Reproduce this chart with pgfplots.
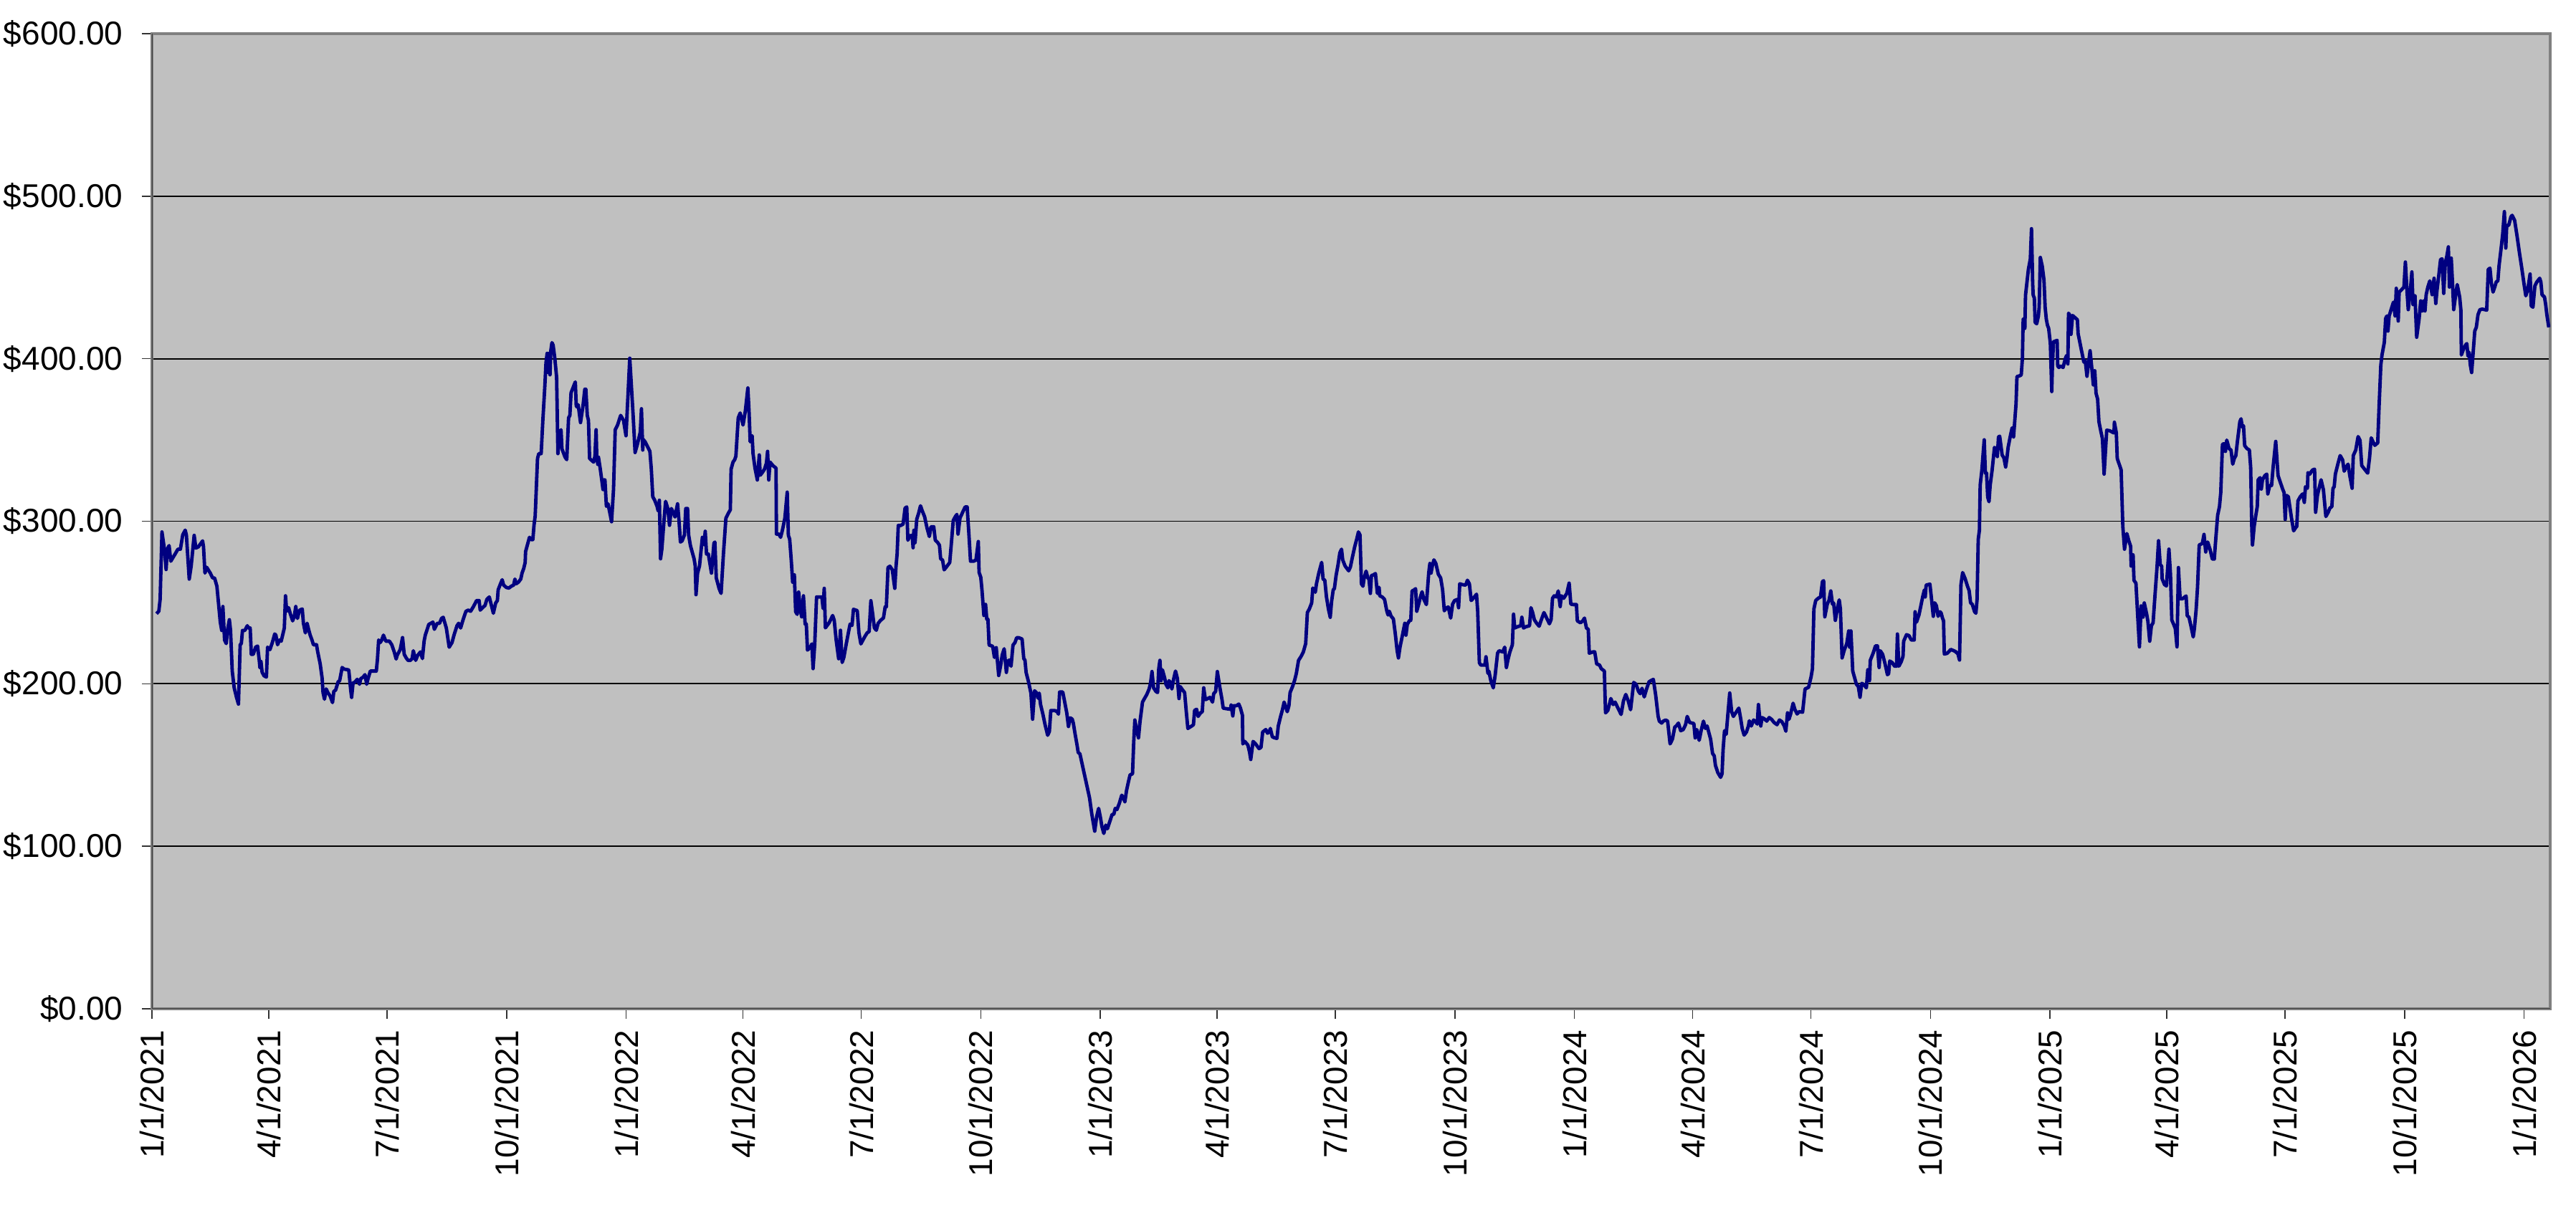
\documentclass[border=0pt]{standalone}
\usepackage{pgfplots}
\pgfplotsset{compat=1.18}
\usepackage{fontspec}
\setmainfont{Liberation Sans}
\definecolor{plotbg}{HTML}{C0C0C0}
\definecolor{framegray}{HTML}{808080}
\definecolor{navyline}{HTML}{000080}
\begin{document}
\fontsize{11.5pt}{13pt}\selectfont
\begin{tikzpicture}
\begin{axis}[
  at={(0,0)}, anchor=south west,
  scale only axis, width=836.5pt, height=340.25pt,
  xmin=0, xmax=1846.1, ymin=0, ymax=600,
  axis background/.style={fill=plotbg},
  axis line style={draw=framegray, line width=1.1pt},
  xtick={0,90,181,273,365,455,546,638,730,820,911,1003,1095,1186,1277,1369,1461,1551,1642,1734,1826},
  xticklabels={1/1/2021,4/1/2021,7/1/2021,10/1/2021,1/1/2022,4/1/2022,7/1/2022,10/1/2022,1/1/2023,4/1/2023,7/1/2023,10/1/2023,1/1/2024,4/1/2024,7/1/2024,10/1/2024,1/1/2025,4/1/2025,7/1/2025,10/1/2025,1/1/2026},
  ytick={0,100,200,300,400,500,600},
  yticklabels={\$0.00,\$100.00,\$200.00,\$300.00,\$400.00,\$500.00,\$600.00},
  tick pos=left,
  tick align=outside, major tick length=3.5pt,
  tick style={black!80, line width=0.4pt},
  ymajorgrids, major grid style={black, line width=0.45pt},
  every tick label/.append style={font=\fontsize{11.5pt}{13pt}\selectfont},
  x tick label style={rotate=90, anchor=east, inner sep=0pt},
  y tick label style={anchor=east, inner sep=0pt},
  xticklabel shift=3.75pt,
  yticklabel shift=6.5pt,
]
\addplot[draw=navyline, line width=1.2pt, line join=round, mark=none] coordinates {
(3.5,243.1)(5.3,244.6)(6.3,251.9)(7.7,293.4)(9.6,282.8)(10.9,270.3)(11.8,282.8)(13.2,285.0)(14.5,275.4)(17.3,279.1)(20.0,282.8)(21.9,282.8)(23.7,291.6)(25.6,294.5)(26.5,291.6)(28.7,264.4)(30.2,272.5)(32.5,291.3)(33.8,283.5)(35.7,284.2)(39.0,287.9)(39.7,284.2)(40.8,268.1)(42.1,271.7)(44.9,268.1)(46.7,265.1)(48.2,265.1)(50.0,260.0)(51.3,249.0)(52.6,237.9)(53.7,232.8)(54.6,247.5)(55.9,226.9)(57.2,224.7)(58.1,232.8)(59.6,239.4)(60.5,232.8)(61.8,207.8)(63.3,197.5)(65.1,191.6)(66.6,187.5)(67.9,224.0)(68.8,224.7)(69.7,232.8)(71.5,232.8)(73.4,235.7)(74.3,234.3)(75.6,234.3)(76.5,218.1)(78.0,218.1)(79.8,222.5)(81.3,223.2)(82.6,214.4)(83.1,210.0)(83.9,213.7)(84.8,207.1)(86.3,204.9)(88.1,204.1)(89.0,222.5)(90.8,221.0)(92.7,225.4)(94.5,230.6)(95.4,229.9)(96.7,224.0)(98.2,226.9)(99.5,226.2)(101.9,234.3)(102.8,254.1)(103.7,244.6)(105.2,246.8)(106.5,243.1)(108.3,238.7)(109.6,241.6)(110.7,247.5)(112.0,240.2)(112.9,243.1)(113.8,245.3)(115.7,246.0)(116.6,237.2)(118.1,231.3)(119.4,237.2)(120.3,234.3)(121.8,229.9)(123.2,226.9)(124.3,224.0)(126.7,224.0)(127.6,219.6)(129.5,212.2)(131.0,203.4)(131.7,194.6)(132.8,190.5)(134.1,196.8)(135.4,194.6)(137.2,192.4)(139.0,188.4)(140.0,195.3)(141.4,196.1)(143.3,201.2)(144.5,201.9)(146.4,210.0)(147.9,209.0)(151.5,208.5)(153.0,196.1)(153.7,191.6)(154.8,200.5)(156.1,200.9)(158.0,202.7)(159.8,199.7)(160.7,203.1)(162.6,204.1)(164.0,205.6)(165.3,199.7)(166.2,202.7)(168.1,207.8)(172.7,207.8)(173.6,215.2)(174.5,226.9)(175.8,225.4)(176.9,226.9)(178.2,229.9)(180.0,226.2)(182.8,226.2)(184.6,224.0)(186.5,219.6)(188.0,215.2)(188.7,217.4)(191.1,221.0)(192.9,228.4)(194.2,218.1)(195.7,215.9)(197.1,214.4)(199.0,214.4)(200.3,215.5)(201.2,220.3)(203.0,214.4)(204.5,217.4)(206.7,219.6)(208.2,215.5)(209.5,226.2)(210.4,229.9)(213.1,236.5)(216.3,237.9)(217.4,233.5)(219.6,237.2)(221.4,237.2)(222.9,240.2)(224.2,240.9)(226.6,234.3)(228.8,222.5)(231.0,225.4)(232.5,229.9)(234.8,235.7)
(236.1,237.2)(237.6,234.3)(239.5,239.4)(241.7,244.6)(243.5,245.3)(245.3,244.6)(247.5,247.5)(249.9,251.2)(251.8,251.2)(252.7,245.3)(254.5,246.8)(256.4,248.2)(257.8,251.9)(259.7,253.4)(261.3,248.2)(262.8,243.4)(264.6,249.7)(265.9,251.2)(266.5,257.8)(268.3,261.5)(269.6,264.0)(270.7,260.7)(272.9,259.2)(274.8,258.9)(276.6,260.0)(278.4,260.7)(279.4,264.4)(280.3,261.5)(282.1,262.5)(283.9,264.4)(284.9,268.1)(286.2,271.0)(287.3,274.7)(287.6,281.3)(289.1,285.7)(290.6,290.1)(291.9,288.7)(293.2,288.7)(294.1,297.5)(295.0,303.3)(296.8,338.6)(297.8,341.6)(299.6,341.6)(300.9,362.1)(302.4,382.7)(303.3,397.4)(304.2,403.3)(305.1,391.5)(305.7,403.3)(306.4,390.1)(307.0,404.8)(307.9,409.9)(308.8,408.4)(310.1,400.3)(311.5,388.6)(312.5,341.6)(313.4,353.3)(314.9,356.3)(315.6,344.5)(318.0,339.4)(319.3,337.9)(320.7,363.6)(321.7,365.1)(322.6,379.0)(324.4,382.7)(325.9,385.7)(326.6,371.0)(327.4,370.2)(328.1,371.7)(329.9,360.7)(331.8,371.0)(333.2,381.2)(334.0,381.2)(335.1,365.1)(336.0,362.1)(336.9,338.6)(338.8,337.2)(340.0,336.4)(341.0,340.1)(341.9,356.3)(342.4,340.1)(343.2,335.0)(343.7,339.4)(345.0,332.7)(346.5,323.9)(347.2,319.5)(347.8,325.4)(348.7,325.4)(349.8,309.2)(351.1,310.7)(353.8,299.7)(355.3,319.5)(356.6,356.3)(358.4,359.2)(360.8,365.1)(363.0,362.1)(364.9,352.6)(366.3,375.4)(367.8,400.3)(370.4,365.1)(371.9,342.3)(373.7,347.4)(375.0,351.8)(375.9,354.8)(376.8,369.2)(377.8,343.8)(378.1,350.4)(379.6,348.9)(381.4,346.0)(383.3,343.0)(384.4,332.0)(385.5,315.1)(387.0,312.9)(388.8,309.2)(389.7,306.3)(390.6,312.9)(391.5,276.9)(392.5,282.8)(394.3,301.9)(395.4,312.2)(397.1,307.8)(398.4,297.5)(399.8,307.8)(401.7,304.8)(402.6,302.6)(403.5,306.3)(404.6,310.7)(405.7,300.4)(406.8,287.2)(408.1,287.9)(409.9,291.6)(410.9,307.8)(412.3,307.8)(413.1,291.6)(414.5,285.0)(417.3,276.9)(418.2,272.5)(418.8,254.8)(420.0,268.1)(421.5,272.5)(423.7,290.1)(425.0,285.7)(425.9,293.8)(426.9,279.8)(428.3,279.8)(429.2,275.4)(430.7,268.1)(432.6,286.5)(433.3,287.2)(434.4,265.1)(436.6,258.5)(438.1,255.6)(439.9,279.8)(441.8,301.9)(443.6,304.8)(445.2,307.0)(445.8,332.0)(447.3,336.4)(448.6,337.9)(449.5,340.1)(451.3,363.6)(452.8,366.6)(455.0,359.2)(456.8,368.0)(458.7,382.0)(459.6,368.0)(460.5,348.9)(462.0,352.6)(462.7,341.6)(464.2,332.7)(466.0,325.4)(467.5,340.8)(468.2,328.3)(469.7,329.8)(471.5,332.0)(473.0,335.7)(473.9,343.0)(474.8,325.4)(475.8,336.4)(478.0,334.2)(480.4,332.7)
(480.7,292.1)(482.6,292.1)(483.9,290.1)(485.3,294.4)(487.2,301.9)(489.0,317.9)(489.9,291.3)(490.9,289.0)(492.1,276.1)(493.2,262.5)(494.5,267.0)(495.5,244.3)(496.7,242.7)(497.8,256.4)(499.1,245.8)(500.1,241.2)(501.5,254.1)(502.8,236.7)(503.7,236.7)(504.6,220.7)(506.5,222.2)(508.0,224.5)(508.9,209.3)(510.2,224.5)(511.6,253.4)(515.7,253.4)(516.6,246.5)(517.5,258.7)(518.4,234.4)(521.2,237.4)(524.0,242.0)(525.2,239.0)(526.7,226.8)(528.6,215.4)(530.0,232.9)(531.3,213.1)(532.6,216.2)(534.1,223.0)(535.9,230.6)(537.4,236.7)(538.9,235.9)(540.0,245.8)(542.9,245.0)(544.2,231.4)(545.7,224.5)(548.8,229.1)(550.6,231.4)(552.1,232.1)(553.4,251.1)(554.7,243.5)(556.1,234.4)(557.6,232.9)(558.9,237.0)(560.7,238.9)(563.1,240.5)(564.4,247.3)(565.3,247.3)(566.6,271.6)(568.1,272.3)(569.9,270.1)(571.8,258.7)(572.7,271.6)(573.6,279.9)(574.5,297.4)(576.4,297.4)(578.2,298.2)(579.7,308.0)(581.0,308.8)(581.9,288.3)(583.4,291.0)(585.2,291.3)(585.9,283.7)(586.5,294.4)(587.4,286.8)(588.7,301.2)(590.2,305.0)(591.6,309.5)(592.9,306.5)(594.8,302.7)(596.6,295.9)(598.4,290.6)(599.7,296.6)(601.8,296.6)(603.0,288.3)(604.9,286.8)(606.2,285.2)(607.1,276.9)(608.6,276.1)(609.8,270.1)(611.3,271.6)(614.1,274.6)(615.4,286.8)(616.8,300.4)(618.3,302.7)(619.6,304.2)(620.5,292.1)(622.0,302.0)(623.3,304.2)(624.6,306.5)(626.0,308.8)(627.5,308.8)(628.8,292.8)(630.1,275.4)(632.5,275.4)(634.3,276.1)(636.1,287.5)(636.7,268.5)(638.0,265.5)(638.9,257.9)(640.4,242.0)(641.7,248.8)(642.6,239.7)(643.5,239.7)(644.4,223.8)(646.3,223.3)(647.2,223.0)(648.5,216.2)(649.9,222.2)(651.8,205.1)(653.2,210.8)(654.5,217.7)(656.0,221.5)(657.7,207.0)(658.8,213.9)(660.1,214.6)(661.3,210.8)(662.8,223.8)(664.3,225.3)(665.6,228.3)(667.4,228.3)(669.8,227.5)(671.1,215.4)(672.0,214.6)(672.9,207.0)(674.8,201.0)(676.6,194.2)(677.9,178.2)(679.4,195.7)(681.2,194.2)(682.1,191.1)(683.0,194.2)(684.0,187.3)(685.8,181.3)(687.6,174.4)(689.5,168.3)(690.8,170.6)(691.9,183.5)(695.0,183.5)(696.8,182.8)(697.8,181.3)(698.7,194.9)(701.1,194.9)(702.4,189.6)(704.2,182.0)(705.5,173.7)(706.9,179.0)(708.4,178.2)(709.2,175.9)(710.6,169.1)(712.1,162.3)(713.0,157.7)(714.3,156.9)
(721.7,129.9)(723.5,119.6)(725.7,109.3)(727.2,118.2)(728.7,123.3)(730.0,118.2)(731.2,112.3)(732.7,107.9)(734.2,113.0)(735.5,110.8)(737.3,115.2)(739.1,119.6)(740.4,119.6)(741.5,123.3)(742.8,122.6)(744.6,126.3)(746.5,131.4)(747.8,129.9)(748.9,127.3)(750.2,134.3)(751.6,139.5)(752.9,143.9)(754.8,144.6)(755.7,163.7)(756.6,177.7)(758.1,171.1)(759.4,166.7)(760.6,176.9)(762.5,188.7)(764.0,190.9)(765.8,193.4)(767.6,196.8)(768.7,200.5)(769.8,207.5)(771.0,197.5)(772.8,195.3)(774.1,194.6)(775.0,209.3)(775.9,214.4)(776.8,201.9)(777.8,208.6)(779.6,203.4)(780.5,199.7)(782.0,197.5)(782.9,201.9)(784.2,200.5)(785.1,196.8)(786.4,202.7)(787.9,207.8)(789.3,203.4)(790.6,190.9)(791.5,198.3)(793.4,196.1)(794.9,194.6)(796.1,183.6)(797.4,172.5)(800.4,174.0)(801.7,174.8)(802.6,183.6)(804.1,184.3)(805.3,179.9)(807.2,182.1)(808.5,182.8)(809.6,197.5)(810.9,190.2)(812.7,190.9)(814.5,191.6)(816.4,188.7)(817.3,193.9)(818.8,195.3)(820.1,207.5)(821.9,198.3)(823.7,190.2)(824.6,185.0)(827.4,184.6)(830.2,184.3)(830.7,186.9)(832.0,180.2)(832.9,186.5)(834.8,186.5)(836.6,187.5)(837.9,185.0)(839.4,180.6)(839.7,163.0)(841.2,164.5)(843.6,162.3)(844.9,157.9)(845.8,153.4)(847.6,164.5)(849.5,163.0)(852.2,160.1)(853.7,160.8)(855.0,170.3)(857.4,171.8)(858.7,169.6)(860.0,170.3)(860.9,172.5)(862.4,167.4)(864.2,166.7)(866.0,166.4)(867.0,174.0)(868.8,179.9)(870.3,184.3)(871.5,188.7)(872.8,185.8)(873.9,182.8)(875.2,186.5)(876.1,194.6)(878.0,198.3)(879.5,201.9)(880.9,206.3)(882.6,214.4)(884.4,216.6)(886.3,219.6)(888.1,224.7)(889.4,243.8)(890.9,246.0)(892.7,249.7)(893.6,258.9)(895.5,256.3)(896.4,261.5)(898.2,268.1)(900.4,274.7)(901.5,264.4)(902.8,263.7)(904.1,253.4)(905.6,246.0)(907.0,240.9)(908.0,250.4)(909.3,257.8)(910.2,258.5)(911.5,266.6)(913.0,273.2)(914.4,280.6)(915.7,282.8)(916.6,276.2)(918.4,272.5)(921.2,269.5)(922.5,271.8)(924.0,277.6)(925.8,284.2)(927.3,288.7)(928.7,293.4)(929.9,291.6)(931.0,261.5)(932.2,260.0)(933.1,265.1)(934.6,269.3)(935.9,265.1)(936.8,264.4)(937.9,255.6)(938.7,266.6)(940.1,266.9)(941.8,267.8)(943.3,255.6)(944.6,259.3)(945.1,254.1)(947.0,253.4)(948.8,251.9)(950.6,244.6)(951.5,242.3)(952.5,244.6)(953.8,241.6)(955.6,239.9)(957.1,230.6)(958.5,220.3)(959.5,215.9)(960.7,222.5)(962.6,229.9)(964.4,237.2)(965.3,229.9)(966.3,236.5)(968.1,239.0)(969.0,239.0)(970.0,257.1)
(971.8,257.8)(972.7,258.5)(973.6,244.6)(975.1,249.0)(976.4,253.4)(977.7,256.6)(979.1,251.9)(981.0,248.7)(982.8,268.1)(983.7,274.0)(984.6,268.1)(985.6,272.5)(986.8,276.2)(988.3,274.0)(990.2,267.4)(992.0,265.1)(993.5,257.8)(994.8,244.9)(996.6,246.8)(997.9,247.2)(999.7,240.4)(1001.2,249.0)(1002.7,251.2)(1004.9,251.9)(1005.8,246.8)(1006.7,261.5)(1008.6,261.0)(1011.3,260.7)(1012.6,263.7)(1014.1,261.5)(1015.5,251.2)(1017.7,253.1)(1019.6,255.1)(1020.5,244.6)(1021.8,212.9)(1022.9,211.5)(1026.0,211.5)(1026.9,216.6)(1028.4,206.3)(1029.1,207.8)(1030.6,201.9)(1032.5,197.5)(1033.9,204.9)(1035.8,218.8)(1037.0,220.3)(1039.8,219.6)(1041.3,222.5)(1042.6,210.0)(1043.9,215.2)(1045.3,219.6)(1047.2,224.0)(1048.1,242.8)(1049.0,234.3)(1050.8,235.0)(1053.6,235.7)(1054.5,240.9)(1055.8,234.3)(1057.3,235.0)(1060.4,235.7)(1061.5,246.8)(1062.8,243.8)(1064.1,239.4)(1065.9,237.2)(1067.8,235.4)(1069.2,238.7)(1071.5,243.8)(1073.3,240.9)(1075.7,236.9)(1077.0,239.4)(1078.1,252.6)(1079.4,254.1)(1081.2,253.4)(1082.5,257.1)(1084.0,247.5)(1084.9,254.1)(1086.7,252.6)(1089.1,255.6)(1090.9,261.9)(1092.2,249.0)(1094.1,248.7)(1096.5,248.7)(1097.2,238.7)(1099.6,237.5)(1101.4,238.7)(1102.7,240.4)(1104.2,234.3)(1105.6,233.5)(1106.4,218.8)(1109.3,219.6)(1110.6,219.6)(1112.1,212.2)(1114.3,211.5)(1115.6,209.3)(1118.0,207.8)(1118.9,182.1)(1120.7,183.6)(1123.0,190.9)(1124.8,187.2)(1126.3,188.7)(1128.5,185.0)(1130.9,181.1)(1132.7,189.4)(1134.5,193.4)(1136.4,189.4)(1138.2,184.0)(1140.6,200.8)(1142.4,199.7)(1144.3,195.3)(1145.6,193.9)(1147.0,197.2)(1148.7,191.9)(1150.5,196.8)(1152.4,201.2)(1153.8,201.9)(1155.7,202.7)(1157.5,193.1)(1159.4,179.9)(1160.3,177.0)(1162.1,175.8)(1163.4,177.0)(1165.2,177.7)(1166.7,177.0)(1168.6,163.0)(1170.4,165.9)(1172.2,173.3)(1173.7,174.3)(1175.0,175.8)(1176.8,171.1)(1178.7,171.8)(1180.5,174.8)(1181.8,179.9)(1183.6,176.2)(1186.9,175.5)(1187.9,166.7)(1189.2,171.8)(1191.0,165.2)(1192.5,171.1)(1194.3,177.0)(1195.8,172.5)(1197.1,174.0)(1199.8,165.9)(1201.3,157.1)(1202.6,155.6)(1203.5,149.8)(1205.3,145.4)(1207.5,142.4)
(1208.6,144.6)(1209.4,159.3)(1210.5,171.1)(1211.8,168.9)(1213.1,181.4)(1214.5,194.3)(1216.0,182.8)(1217.3,179.9)(1219.1,182.1)(1221.5,185.0)(1222.8,179.2)(1224.1,172.5)(1225.6,168.4)(1227.4,170.3)(1228.9,174.0)(1229.6,177.2)(1231.1,174.0)(1232.9,177.7)(1234.8,176.2)(1235.7,175.2)(1236.6,187.2)(1237.5,179.9)(1238.4,174.0)(1239.4,179.2)(1241.2,178.4)(1243.0,177.0)(1244.9,179.2)(1246.7,178.1)(1248.6,176.2)(1250.9,174.8)(1252.8,177.7)(1254.6,176.7)(1256.5,174.0)(1257.7,170.8)(1259.0,182.1)(1260.1,178.1)(1261.4,181.4)(1263.3,188.0)(1264.6,184.3)(1266.4,181.4)(1267.9,182.8)(1270.6,182.5)(1272.5,196.8)(1275.2,197.8)(1277.1,204.1)(1278.2,209.3)(1278.9,232.8)(1279.3,246.0)(1280.7,251.2)(1282.6,252.6)(1284.4,253.4)(1285.9,262.9)(1286.8,263.4)(1287.7,241.2)(1289.6,249.0)(1290.9,251.2)(1292.3,257.1)(1293.6,249.0)(1294.5,249.7)(1295.8,239.0)(1297.3,246.0)(1298.8,251.6)(1299.7,246.0)(1301.0,215.9)(1302.8,221.0)(1304.6,224.7)(1306.1,232.5)(1306.8,222.5)(1307.8,232.5)(1309.2,207.8)(1310.5,204.1)(1312.0,199.7)(1313.5,198.3)(1314.8,191.7)(1316.1,200.2)(1317.5,199.7)(1319.7,197.5)(1320.8,208.6)(1322.1,201.9)(1322.7,214.4)(1324.9,218.8)(1326.7,223.3)(1328.2,223.3)(1329.5,210.0)(1330.4,220.3)(1332.2,218.1)(1334.1,212.2)(1335.9,205.6)(1336.8,206.1)(1337.7,214.0)(1339.6,213.0)(1341.4,210.8)(1342.9,210.8)(1343.6,230.6)(1344.7,210.8)(1346.6,213.7)(1347.9,216.9)(1348.4,226.2)(1350.6,230.2)(1352.5,229.6)(1354.3,226.9)(1356.5,226.9)(1357.2,244.3)(1358.3,237.9)(1358.9,239.4)(1360.2,242.4)(1361.7,248.2)(1363.1,253.7)(1364.4,257.8)(1365.0,253.4)(1365.7,260.7)
(1367.2,261.0)(1368.6,261.3)(1369.9,251.7)(1371.2,241.5)(1372.3,249.8)(1373.6,248.0)(1374.9,241.5)(1376.4,244.3)(1377.3,243.4)(1378.2,240.6)(1379.1,238.7)(1379.7,218.3)(1381.9,218.7)(1383.7,220.2)(1384.6,221.1)(1386.5,220.5)(1388.3,219.8)(1390.2,218.3)(1391.4,214.6)(1392.5,261.0)(1393.8,268.4)(1395.7,264.7)(1397.5,260.1)(1398.8,257.3)(1399.9,249.8)(1401.2,248.9)(1403.0,244.3)(1404.0,243.4)(1404.9,251.7)(1405.8,288.8)(1406.7,294.4)(1407.3,322.2)(1408.6,331.5)(1410.4,350.1)(1411.3,329.6)(1412.2,329.6)(1413.1,314.8)(1414.1,312.0)(1415.0,322.2)(1416.5,331.5)(1418.3,345.4)(1419.6,344.5)(1420.5,339.8)(1421.4,351.9)(1422.3,352.3)(1423.3,346.3)(1424.2,340.8)(1425.6,338.9)(1426.9,333.4)(1427.9,338.9)(1428.8,345.4)(1430.6,352.8)(1431.9,357.5)(1433.0,351.9)(1433.7,359.3)(1434.9,372.3)(1435.6,389.0)(1437.4,389.4)(1438.9,390.0)(1439.8,400.2)(1440.4,424.3)(1441.1,422.4)(1441.7,418.7)(1442.2,439.1)(1443.5,448.4)(1444.4,454.9)(1445.9,461.4)(1446.8,480.0)(1447.7,446.6)(1448.1,439.1)(1449.0,437.3)(1449.6,422.4)(1450.8,421.5)(1452.1,426.2)(1452.7,431.7)(1453.6,462.3)(1455.1,456.8)(1456.4,448.4)(1457.3,431.7)(1458.2,424.3)(1459.1,420.6)(1460.0,418.7)(1461.3,409.5)(1462.4,379.8)(1462.8,392.7)(1463.7,410.4)(1466.5,411.3)(1467.0,395.5)(1467.9,394.6)(1469.2,395.5)(1471.1,394.6)(1472.9,400.2)(1473.8,402.0)(1474.8,396.8)(1475.3,428.0)(1476.1,427.1)(1477.2,415.0)
(1478.4,426.6)(1482.1,424.0)(1482.7,415.3)(1484.9,406.6)(1487.1,397.9)(1488.2,398.8)(1489.5,389.2)(1491.9,404.9)(1493.2,394.4)(1494.4,383.9)(1495.5,392.6)(1496.5,378.7)(1497.7,375.2)(1498.7,361.3)(1500.0,356.0)(1501.4,350.8)(1502.7,329.0)(1504.7,356.0)(1506.9,355.7)(1510.3,354.3)(1510.6,360.9)(1512.1,354.3)(1512.8,338.6)(1514.3,335.1)(1515.8,331.6)(1517.1,296.8)(1518.4,282.8)(1520.2,292.4)(1521.7,288.0)(1523.1,284.6)(1523.5,272.4)(1525.0,279.3)(1525.7,263.6)(1527.2,261.9)(1528.6,241.0)(1529.9,222.7)(1531.2,247.9)(1532.7,241.0)(1533.6,249.7)(1535.5,242.7)(1536.4,238.4)(1537.8,226.2)(1539.1,235.7)(1540.4,237.5)(1541.9,254.9)(1543.4,271.5)(1544.6,288.0)(1545.9,273.2)(1547.0,272.4)(1547.4,264.5)(1549.2,261.0)(1550.7,260.2)(1551.5,269.7)(1552.6,282.8)(1553.8,267.1)(1554.8,239.2)(1556.2,236.6)(1557.5,234.0)(1558.8,222.7)(1559.9,271.5)(1561.2,252.3)(1563.0,252.3)(1565.8,254.0)(1566.7,241.8)(1568.0,241.0)(1569.5,235.7)(1571.3,228.8)(1572.2,234.0)(1573.5,245.3)(1574.6,259.3)(1575.9,285.4)(1578.3,286.3)(1579.6,291.9)(1580.9,281.1)(1582.4,287.2)(1584.2,282.8)(1586.0,276.7)(1587.5,276.7)(1588.8,290.7)(1590.1,303.7)(1591.5,309.0)(1592.5,317.7)(1593.8,347.3)(1594.9,347.7)(1596.1,343.0)(1597.1,349.9)(1598.9,344.7)(1600.4,343.8)(1601.7,335.1)(1602.9,338.6)(1604.1,340.4)(1605.3,349.1)(1607.2,361.3)(1608.1,363.0)(1609.0,358.1)(1610.0,358.7)(1610.9,346.5)(1612.7,344.7)(1614.5,343.8)(1615.5,333.4)(1616.4,295.0)(1616.9,285.4)(1618.2,296.8)(1619.5,303.7)(1620.6,309.0)(1621.3,325.5)(1622.8,326.8)(1623.7,319.8)(1624.6,325.5)(1626.5,328.1)(1627.9,329.0)(1628.7,316.8)(1630.2,322.0)(1631.6,322.0)(1632.9,334.2)(1634.8,349.1)(1636.6,328.1)(1638.4,323.8)(1640.3,319.4)(1641.2,317.7)(1642.1,301.1)(1643.0,315.9)(1644.5,315.1)(1645.8,308.1)(1647.1,301.1)(1648.6,294.1)(1650.0,295.9)(1651.0,296.8)(1651.9,312.5)(1653.7,315.1)(1655.5,316.8)(1656.8,311.6)(1657.7,321.2)(1659.2,320.3)(1659.6,329.9)(1661.1,329.0)(1662.4,330.8)(1663.3,331.6)(1664.7,332.0)(1665.5,305.5)(1666.9,315.9)(1669.7,325.5)(1671.5,319.4)(1672.5,310.7)(1673.4,302.9)(1675.2,305.5)(1676.5,308.1)(1678.0,309.0)(1678.9,320.3)(1679.8,321.2)(1680.7,329.0)(1682.6,335.1)(1684.4,340.4)(1686.3,337.7)(1687.5,330.8)(1689.0,333.4)(1690.5,335.1)(1691.8,328.1)(1693.6,320.3)(1694.5,340.4)(1696.4,343.8)
(1698.2,352.1)(1699.7,349.7)(1701.0,334.3)(1702.8,332.4)(1705.6,329.6)(1707.0,338.9)(1708.3,351.3)(1709.6,349.0)(1711.1,346.7)(1713.3,348.2)(1714.4,371.4)(1715.7,396.1)(1716.6,402.3)(1718.4,410.1)(1719.4,424.7)(1720.3,426.3)(1721.2,417.0)(1722.1,426.3)(1723.6,430.2)(1725.4,434.8)(1726.7,426.3)(1727.6,443.3)(1729.1,423.2)(1729.8,441.0)(1731.7,442.5)(1733.5,444.1)(1734.6,459.5)(1735.9,441.0)(1736.8,430.2)(1738.3,441.0)(1739.6,453.4)(1740.5,433.3)(1742.0,438.7)(1743.3,413.2)(1745.1,424.0)(1746.4,435.6)(1747.5,429.4)(1748.8,435.6)(1749.7,429.4)(1750.6,439.4)(1751.9,444.1)(1753.4,447.9)(1755.2,439.4)(1756.7,449.5)(1758.0,434.0)(1758.9,441.8)(1760.4,451.8)(1761.7,461.1)(1762.9,461.4)(1764.1,440.2)(1765.3,458.8)(1766.6,463.4)(1767.7,468.8)(1768.5,444.1)(1769.9,461.9)(1770.9,446.4)(1771.8,430.2)(1773.6,441.0)(1774.5,445.6)(1776.4,437.9)(1777.3,430.2)(1777.7,402.3)(1779.1,405.4)(1781.0,408.5)(1781.9,409.3)(1782.8,401.6)(1783.7,403.9)(1784.6,396.1)(1785.6,391.5)(1786.5,400.8)(1788.0,417.0)(1789.2,419.3)(1790.5,427.1)(1792.0,430.2)(1793.8,430.5)(1795.7,430.2)(1797.2,429.9)(1798.4,454.9)(1799.7,455.7)(1800.8,446.4)(1802.1,441.0)(1803.4,444.1)(1804.5,447.2)(1805.8,447.9)(1806.7,457.2)(1808.2,467.3)(1809.5,476.6)(1810.8,490.5)(1811.9,468.1)(1812.6,482.0)(1814.1,482.0)(1815.9,487.4)(1816.8,488.2)(1818.7,485.1)(1820.5,475.8)(1822.3,465.7)(1824.2,455.7)(1826.0,445.6)(1827.3,438.7)(1828.8,442.5)(1830.6,452.1)(1831.5,432.5)(1832.8,431.7)(1834.3,444.9)(1835.8,447.2)(1838.0,449.5)(1838.9,447.2)(1839.8,439.4)(1841.7,437.9)(1842.6,433.3)(1843.5,427.1)(1845.0,419.3)
};
\draw[black!75, line width=0.5pt] (axis cs:0,600) -- (axis cs:0,0) -- (axis cs:1846.1,0);
\end{axis}
\pgfresetboundingbox
\useasboundingbox (-53pt,-73pt) rectangle (845.5pt,352pt);
\end{tikzpicture}
\end{document}
